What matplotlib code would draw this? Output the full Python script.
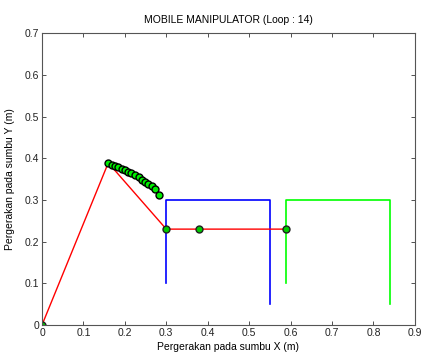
import matplotlib
matplotlib.use('agg')
import matplotlib.pyplot as plt

# end effector trajectory (green dots)
traj_x = [0.160, 0.168, 0.176, 0.184, 0.192, 0.200, 0.208, 0.216, 0.224,
          0.233, 0.241, 0.249, 0.257, 0.265, 0.273, 0.283]
traj_y = [0.389, 0.385, 0.382, 0.379, 0.375, 0.371, 0.367, 0.364, 0.359,
          0.354, 0.349, 0.344, 0.339, 0.333, 0.327, 0.313]

# manipulator links (red)
arm_x = [0.0, 0.16, 0.30, 0.38, 0.59]
arm_y = [0.0, 0.389, 0.23, 0.23, 0.23]
joint_x = [0.0, 0.30, 0.38, 0.59]
joint_y = [0.0, 0.23, 0.23, 0.23]

# platform outlines
blue_x = [0.30, 0.30, 0.55, 0.55]
blue_y = [0.10, 0.30, 0.30, 0.05]
green_x = [0.59, 0.59, 0.84, 0.84]
green_y = [0.10, 0.30, 0.30, 0.05]

plt.rcParams['font.family'] = ['Liberation Sans', 'DejaVu Sans']
plt.rcParams['font.size'] = 7.5

fig = plt.figure(figsize=(4.33, 3.52), dpi=100)
ax = fig.add_axes([0.097, 0.0767, 0.861, 0.829])

ax.plot(blue_x, blue_y, color='#0000ff', lw=1.2)
ax.plot(green_x, green_y, color='#00ff00', lw=1.2)
ax.plot(arm_x, arm_y, color='#ff0000', lw=1.0)
ax.plot(joint_x, joint_y, 'o', ms=5, mfc='#00cc00', mec='#202020', mew=1.0)
ax.plot(traj_x, traj_y, 'o', ms=5, mfc='#00ee00', mec='black', mew=1.0)

ax.set_xlim(0, 0.9)
ax.set_ylim(0, 0.7)
ax.set_xticks([0, 0.1, 0.2, 0.3, 0.4, 0.5, 0.6, 0.7, 0.8, 0.9])
ax.set_xticklabels(['0', '0.1', '0.2', '0.3', '0.4', '0.5', '0.6', '0.7', '0.8', '0.9'])
ax.set_yticks([0, 0.1, 0.2, 0.3, 0.4, 0.5, 0.6, 0.7])
ax.set_yticklabels(['0', '0.1', '0.2', '0.3', '0.4', '0.5', '0.6', '0.7'])
ax.tick_params(direction='in', top=True, right=True, length=3, width=0.6,
               pad=2, colors='#333333', labelcolor='#222222')
for s in ax.spines.values():
    s.set_color('#555555')
    s.set_linewidth(0.8)

ax.set_title('MOBILE MANIPULATOR (Loop : 14)', fontsize=7.5, pad=7)
ax.set_xlabel('Pergerakan pada sumbu X (m)', labelpad=3)
ax.set_ylabel('Pergerakan pada sumbu Y (m)', labelpad=7)

fig.savefig('out.png', dpi=100)
